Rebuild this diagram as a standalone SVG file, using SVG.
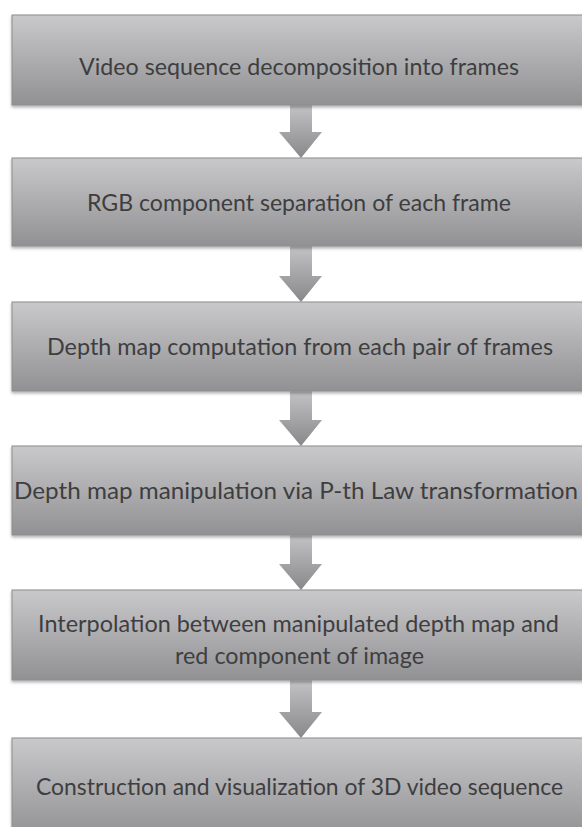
<svg xmlns="http://www.w3.org/2000/svg" width="582" height="827" viewBox="0 0 582 827">
<style>
.box{fill:url(#boxg);stroke:#8c8c8e;stroke-width:1;filter:url(#sh)}
.lbl{font-family:Lato,"Open Sans","Liberation Sans",sans-serif;font-size:24px;fill:#3e3e40;text-anchor:middle}
.arr{fill:url(#arrg);stroke:none}
</style>
<defs>
<linearGradient id="boxg" x1="0" y1="0" x2="0" y2="1">
<stop offset="0" stop-color="#c9c9cb"/>
<stop offset="1" stop-color="#919194"/>
</linearGradient>
<linearGradient id="arrg" x1="0" y1="0" x2="0" y2="1">
<stop offset="0" stop-color="#c3c3c5"/>
<stop offset="1" stop-color="#88888b"/>
</linearGradient>
<filter id="sh" x="-5%" y="-10%" width="110%" height="130%">
<feDropShadow dx="0" dy="2" stdDeviation="1.5" flood-color="#000" flood-opacity="0.3"/>
</filter>
</defs>
<rect width="582" height="827" fill="#ffffff"/>
<g id="connectors">
<path class="arr" d="M290,105 H312 V132 H322 L301,158 L279,132 H290 Z"/>
<path class="arr" d="M290,246 H312 V276 H322 L301,302 L279,276 H290 Z"/>
<path class="arr" d="M290,391 H312 V420 H322 L301,446 L279,420 H290 Z"/>
<path class="arr" d="M290,535 H312 V564 H322 L301,590 L279,564 H290 Z"/>
<path class="arr" d="M290,680 H312 V712 H322 L301,738 L279,712 H290 Z"/>
</g>
<g id="n1">
<rect class="box" x="12" y="15" width="580" height="90"/>
<text class="lbl" x="299" y="75" textLength="440" lengthAdjust="spacingAndGlyphs">Video sequence decomposition into frames</text>
</g>
<g id="n2">
<rect class="box" x="12" y="158" width="580" height="88"/>
<text class="lbl" x="299" y="211" textLength="424" lengthAdjust="spacingAndGlyphs">RGB component separation of each frame</text>
</g>
<g id="n3">
<rect class="box" x="12" y="302" width="580" height="89"/>
<text class="lbl" x="300" y="355" textLength="506" lengthAdjust="spacingAndGlyphs">Depth map computation from each pair of frames</text>
</g>
<g id="n4">
<rect class="box" x="12" y="446" width="580" height="89"/>
<text class="lbl" x="296" y="499" textLength="564" lengthAdjust="spacingAndGlyphs">Depth map manipulation via P-th Law transformation</text>
</g>
<g id="n5">
<rect class="box" x="12" y="590" width="580" height="90"/>
<text class="lbl" x="298.5" y="632" textLength="521" lengthAdjust="spacingAndGlyphs">Interpolation between manipulated depth map and</text>
<text class="lbl" x="299.5" y="664" textLength="249" lengthAdjust="spacingAndGlyphs">red component of image</text>
</g>
<g id="n6">
<rect class="box" x="12" y="738" width="580" height="100"/>
<text class="lbl" x="299.5" y="795" textLength="527" lengthAdjust="spacingAndGlyphs">Construction and visualization of 3D video sequence</text>
</g>
</svg>
